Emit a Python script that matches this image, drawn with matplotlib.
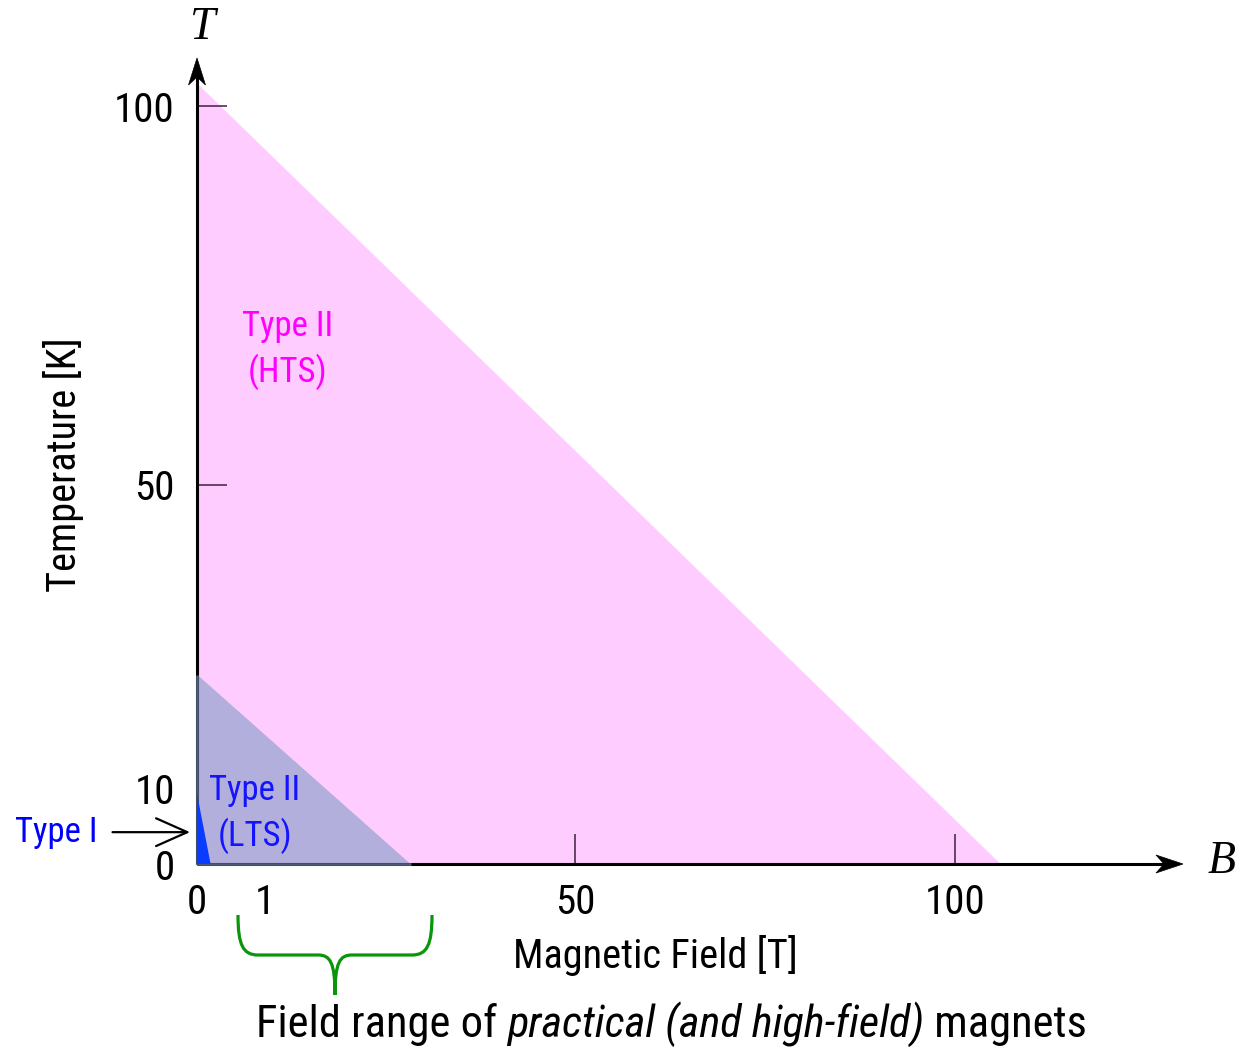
import numpy as np
import matplotlib
matplotlib.use("Agg")
import matplotlib.pyplot as plt
from matplotlib import font_manager
from matplotlib.path import Path
from matplotlib.patches import PathPatch, Polygon
from matplotlib.transforms import Affine2D, ScaledTranslation

# ---------------- data ----------------
field_ticks = [0, 1, 50, 100]
field_tick_labels = ["0", "1", "50", "100"]
temp_ticks = [0, 10, 50, 100]
temp_tick_labels = ["0", "10", "50", "100"]

# Critical temperature [K] and critical field [T] bounding each region
type1_tc, type1_bc = 9.3, 0.2
lts_tc, lts_bc = 25.0, 24.0
hts_tc, hts_bc = 103.0, 106.0

# ---------------- fonts ----------------
_names = {f.name for f in font_manager.fontManager.ttflist}
SANS = next((n for n in ("Liberation Sans Narrow", "Roboto Condensed", "Archivo Narrow")
             if n in _names), "Liberation Sans")
SERIF = "Liberation Serif"
plt.rcParams["font.family"] = [SANS, "DejaVu Sans"]

W, H = 1240, 1047
fig = plt.figure(figsize=(W / 100, H / 100), dpi=100)
fig.patch.set_facecolor("white")

# axes box (pixels measured from the top-left corner)
X0, Y0 = 197, 864          # origin
XT, YT = 1183, 58          # arrow tips
ax = fig.add_axes([X0 / W, (H - Y0) / H, (XT - X0) / W, (Y0 - YT) / H])

# schematic field axis: the 0..1 T decade is stretched
_kb = np.array([0.0, 1.0, 50.0, 100.0])
_ku = np.array([0.0, 68.0, 378.0, 758.0])
_slope = 7.6


def fwd(b):
    b = np.asarray(b, dtype=float)
    return np.where(b > _kb[-1], _ku[-1] + (b - _kb[-1]) * _slope,
                    np.where(b < 0, b * 68.0, np.interp(b, _kb, _ku)))


def inv(u):
    u = np.asarray(u, dtype=float)
    return np.where(u > _ku[-1], _kb[-1] + (u - _ku[-1]) / _slope,
                    np.where(u < 0, u / 68.0, np.interp(u, _ku, _kb)))


ax.set_xscale("function", functions=(fwd, inv))
ax.set_xlim(0, inv(XT - X0))
ax.set_ylim(0, (Y0 - YT) / 7.58)
ax.set_facecolor("none")
for s in ax.spines.values():
    s.set_visible(False)

# ---------------- regions ----------------
ax.fill([0, 0, hts_bc], [0, hts_tc, 0], color="#ffccff", lw=0, zorder=1)
ax.fill([0, 0, lts_bc], [0, lts_tc, 0], color="#b3afdc", lw=0, zorder=2)

# ---------------- axes with arrows ----------------
axis_kw = dict(color="black", lw=2.2, solid_capstyle="butt", clip_on=False, zorder=3)
ax.plot([0, 1 - 18 / (XT - X0)], [0, 0], transform=ax.transAxes, **axis_kw)
ax.plot([0, 0], [0, 1 - 18 / (Y0 - YT)], transform=ax.transAxes, **axis_kw)

edge_kw = dict(color="#4d5a78", lw=2.0, solid_capstyle="butt", clip_on=False, zorder=4)
ax.plot([0, 0], [0, lts_tc], **edge_kw)
ax.plot([0, lts_bc], [0, 0], **edge_kw)

ax.fill([0, 0, type1_bc], [0, type1_tc, 0], color="#0a3cff", lw=0, zorder=5)

head_x = [(0, 0), (-27, 9), (-19, 0), (-27, -9)]
head_y = [(0, 0), (-8.5, -27), (0, -19), (8.5, -27)]
for pts, anchor in ((head_x, (1, 0)), (head_y, (0, 1))):
    tr = Affine2D() + ScaledTranslation(anchor[0], anchor[1], ax.transAxes)
    fig.add_artist(Polygon(pts, closed=True, facecolor="black", edgecolor="black",
                           lw=0.5, transform=tr, zorder=6))

# ---------------- ticks ----------------
ax.set_xticks(field_ticks, field_tick_labels)
ax.set_yticks(temp_ticks, temp_tick_labels)
ax.minorticks_off()
ax.tick_params(axis="both", direction="in", length=21.6, width=1.1,
               color="#3d1f3f", labelsize=29.5, labelcolor="black")
ax.tick_params(axis="x", pad=14)
ax.tick_params(axis="y", pad=16)
for t in ax.get_xticklines() + ax.get_yticklines():
    t.set_zorder(4)


def px(x, y):
    """figure fraction from pixel coordinates measured from the top-left"""
    return x / W, 1 - y / H


# axis symbols and labels
fig.text(*px(203, 28), "T", family=SERIF, style="italic", fontsize=33,
         ha="center", va="center")
fig.text(*px(1222, 862), "B", family=SERIF, style="italic", fontsize=33,
         ha="center", va="center")
fig.text(*px(63, 465), "Temperature [K]", rotation=90, fontsize=29,
         ha="center", va="center")
fig.text(*px(655, 955), "Magnetic Field [T]", fontsize=29, ha="center", va="center")

# region labels
ax.text(4.6, 67.8, "Type II\n(HTS)", color="#ff00ff", fontsize=25,
        ha="center", va="center", linespacing=1.35, zorder=7)
ax.text(0.85, 6.6, "Type II\n(LTS)", color="#1414ff", fontsize=25,
        ha="center", va="center", linespacing=1.35, zorder=7)
ax.annotate("Type I", xy=(0, 4.2), xycoords="data",
            xytext=(-141, 0), textcoords="offset pixels",
            color="#0000ff", fontsize=25, ha="center", va="center",
            annotation_clip=False, zorder=7,
            arrowprops=dict(arrowstyle="->,head_length=0.9,head_width=0.4",
                            color="black", lw=1.6, shrinkA=9, shrinkB=5))

# brace under the practical field range
verts = [(238, 915), (238, 945), (243, 955), (258, 955),
         (318, 955),
         (330, 955), (335, 962), (335, 995),
         (335, 962), (340, 955), (352, 955),
         (412, 955),
         (427, 955), (432, 945), (432, 915)]
codes = [Path.MOVETO, Path.CURVE4, Path.CURVE4, Path.CURVE4,
         Path.LINETO,
         Path.CURVE4, Path.CURVE4, Path.CURVE4,
         Path.CURVE4, Path.CURVE4, Path.CURVE4,
         Path.LINETO,
         Path.CURVE4, Path.CURVE4, Path.CURVE4]
pix = Affine2D().scale(1, -1).translate(0, H)
fig.add_artist(PathPatch(Path(verts, codes), facecolor="none", edgecolor="#0a960a",
                         lw=2.3, transform=pix, capstyle="butt"))

# caption with an italic middle part
pieces = [("Field range of ", "normal"),
          ("practical (and high-field)", "italic"),
          (" magnets", "normal")]
fig.canvas.draw()
renderer = fig.canvas.get_renderer()
texts = []
for s, st in pieces:
    t = fig.text(0, 0, s, style=st, fontsize=32, ha="left", va="baseline")
    texts.append(t)
widths = [t.get_window_extent(renderer).width for t in texts]
x = 671.5 - sum(widths) / 2
for t, w in zip(texts, widths):
    t.set_position(px(x, 1037))
    x += w

fig.savefig("out.png", dpi=100)
